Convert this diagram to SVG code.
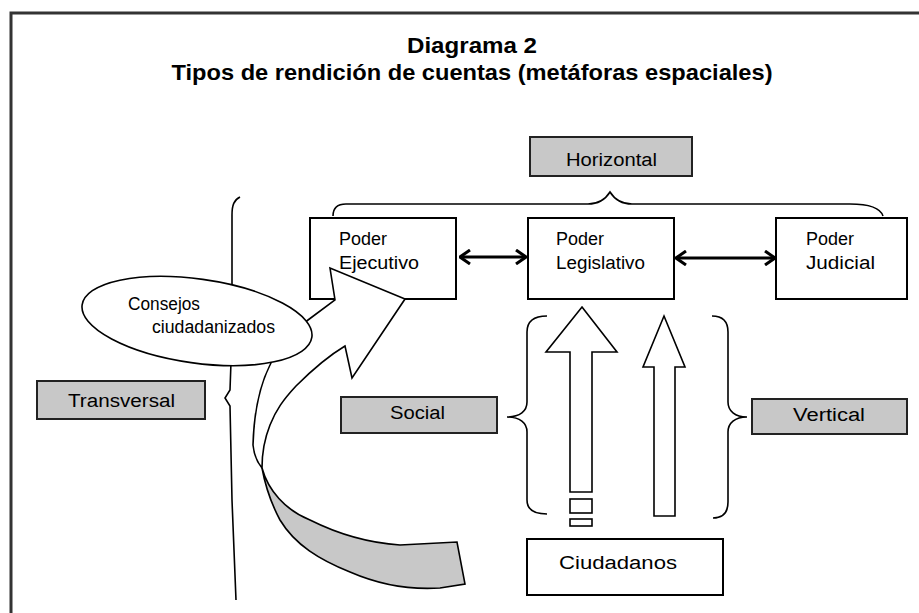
<svg xmlns="http://www.w3.org/2000/svg" width="919" height="613" viewBox="0 0 919 613">
<style>
text{font-family:"Liberation Sans",Arial,sans-serif;fill:#000}
.t{font-size:22px;font-weight:bold}
.l{font-size:18px}
.box{fill:#fff;stroke:#000;stroke-width:2}
.gbox{fill:#c8c8c8;stroke:#222;stroke-width:2}
.ln{fill:none;stroke:#000;stroke-width:1.6}
.arr{fill:none;stroke:#000;stroke-width:3}
.shape{fill:#fff;stroke:#000;stroke-width:1.6;stroke-linejoin:miter}
</style>
<defs>
<marker id="ah" viewBox="0 0 12 16" refX="11" refY="8" markerWidth="12" markerHeight="16" markerUnits="userSpaceOnUse" orient="auto-start-reverse">
<path d="M1,1 L11,8 L1,15" fill="none" stroke="#000" stroke-width="3"/>
</marker>
</defs>
<rect x="0" y="0" width="919" height="613" fill="#fff"/>
<path d="M11,613 V13 H919" fill="none" stroke="#333" stroke-width="3"/>

<g id="title">
<text class="t" x="472" y="53" text-anchor="middle" textLength="130" lengthAdjust="spacingAndGlyphs">Diagrama 2</text>
<text class="t" x="472" y="80" text-anchor="middle" textLength="601" lengthAdjust="spacingAndGlyphs">Tipos de rendición de cuentas (metáforas espaciales)</text>
</g>

<g id="horizontal">
<rect class="gbox" x="530" y="137" width="162" height="39"/>
<text class="l" x="566" y="166" textLength="91" lengthAdjust="spacingAndGlyphs">Horizontal</text>
</g>

<g id="connectors">
<path class="ln" d="M333,216 C333,208 338,204 346,204 L588,204 C598,204 605,200 610,192 C615,200 622,204 632,204 L850,204 C866,204 880,207 883,216"/>
<path class="ln" d="M240,197 C234,200 232,205 232,215 L232,290"/>
<path class="ln" d="M231,362 L230,390 L225,398 L230,406 L232,500 L236,600"/>
<line class="arr" x1="460" y1="257" x2="526" y2="257" marker-start="url(#ah)" marker-end="url(#ah)"/>
<line class="arr" x1="676" y1="258" x2="775" y2="258" marker-start="url(#ah)" marker-end="url(#ah)"/>
<path class="ln" d="M547,316 C533,316 527,322 527,332 L527,402 C527,411 520,417 507,417 C520,417 527,423 527,432 L527,500 C527,509 533,514 547,514"/>
<path class="ln" d="M712,316 C724,316 728,322 728,332 L728,402 C728,411 735,417 747,417 C735,417 728,423 728,432 L728,502 C728,512 724,518 713,518"/>
</g>

<g id="poder-ejecutivo">
<rect class="box" x="310" y="218" width="146" height="81"/>
<text class="l" x="339" y="245" textLength="48" lengthAdjust="spacingAndGlyphs">Poder</text>
<text class="l" x="339" y="269" textLength="80" lengthAdjust="spacingAndGlyphs">Ejecutivo</text>
</g>

<g id="poder-legislativo">
<rect class="box" x="528" y="218" width="146" height="81"/>
<text class="l" x="556" y="245" textLength="48" lengthAdjust="spacingAndGlyphs">Poder</text>
<text class="l" x="556" y="269" textLength="89" lengthAdjust="spacingAndGlyphs">Legislativo</text>
</g>

<g id="poder-judicial">
<rect class="box" x="776" y="218" width="131" height="81"/>
<text class="l" x="806" y="245" textLength="48" lengthAdjust="spacingAndGlyphs">Poder</text>
<text class="l" x="806" y="269" textLength="69" lengthAdjust="spacingAndGlyphs">Judicial</text>
</g>

<g id="transversal-arrow">
<path d="M262,468 C268,490 285,510 310,520 C340,535 370,543 400,545 L457,542 L465,584 L440,588 C410,590 380,585 350,572 C320,560 295,545 280,520 C272,505 266,490 262,468 Z" fill="#c8c8c8" stroke="#000" stroke-width="1.6"/>
<path class="shape" d="M405,299 L330,268 L335,300 L308,320 C292,332 278,346 270,365 C260,385 254,410 253,445 C254,455 257,462 262,468 C262,455 264,440 270,425 C276,410 283,400 296,386 C310,372 325,358 345,346 L352,378 Z"/>
</g>

<g id="consejos">
<ellipse cx="197" cy="321" rx="116" ry="42" transform="rotate(8 197 321)" fill="#fff" stroke="#000" stroke-width="1.6"/>
<text class="l" x="128" y="310" textLength="72" lengthAdjust="spacingAndGlyphs">Consejos</text>
<text class="l" x="152" y="333" textLength="123" lengthAdjust="spacingAndGlyphs">ciudadanizados</text>
</g>

<g id="transversal">
<rect class="gbox" x="37" y="381" width="168" height="38"/>
<text class="l" x="68" y="407" textLength="107" lengthAdjust="spacingAndGlyphs">Transversal</text>
</g>

<g id="social">
<rect class="gbox" x="341" y="397" width="156" height="36"/>
<text class="l" x="390" y="419" textLength="55" lengthAdjust="spacingAndGlyphs">Social</text>
</g>

<g id="vertical">
<rect class="gbox" x="752" y="399" width="155" height="35"/>
<text class="l" x="793" y="421" textLength="72" lengthAdjust="spacingAndGlyphs">Vertical</text>
</g>

<g id="social-arrow">
<path class="shape" d="M582,307 L617,352 L592,352 L592,492 L570,492 L570,352 L546,352 Z"/>
<rect class="shape" x="570" y="499" width="22" height="14"/>
<rect class="shape" x="570" y="519" width="22" height="7"/>
</g>

<g id="vertical-arrow">
<path class="shape" d="M664,316 L685,367 L675,367 L675,516 L654,516 L654,367 L643,367 Z"/>
</g>

<g id="ciudadanos">
<rect class="box" x="527" y="539" width="196" height="56"/>
<text class="l" x="559" y="569" textLength="118" lengthAdjust="spacingAndGlyphs">Ciudadanos</text>
</g>
</svg>
